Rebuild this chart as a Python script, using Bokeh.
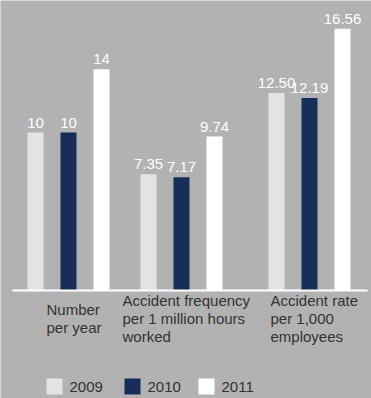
from bokeh.plotting import figure
from bokeh.models import Range1d, ColumnDataSource
from bokeh.core.properties import value
from bokeh.embed import file_html
from bokeh.resources import INLINE

# ---- data ----
categories = ["Number\nper year", "Accident frequency\nper 1 million hours\nworked", "Accident rate\nper 1,000\nemployees"]
years = ["2009", "2010", "2011"]
v2009 = [10, 7.35, 12.50]
v2010 = [10, 7.17, 12.19]
v2011 = [14, 9.74, 16.56]
labels2009 = ["10", "7.35", "12.50"]
labels2010 = ["10", "7.17", "12.19"]
labels2011 = ["14", "9.74", "16.56"]

# ---- layout ----
W, H = 371, 398
BASE_PX = 290          # baseline pixel from top
K = 15.8               # px per unit
colors = ["#e3e3e3", "#172e5a", "#ffffff"]
group_centers = [68, 181, 309]
offsets = [-33, 0, 33]
FONT = "Liberation Sans"

def py(p):
    return (BASE_PX - p) / K

p = figure(width=W, height=H, output_backend="svg", toolbar_location=None,
           x_range=Range1d(0, W), y_range=Range1d(py(H), py(0)),
           min_border=0, min_border_left=0, min_border_right=0,
           min_border_top=0, min_border_bottom=0)
p.axis.visible = False
p.grid.visible = False
p.outline_line_color = None
p.background_fill_color = "#b2b2b2"
p.border_fill_color = "#b2b2b2"

series = [v2009, v2010, v2011]
lab_series = [labels2009, labels2010, labels2011]
for i, (vals, labs) in enumerate(zip(series, lab_series)):
    xs = [c + offsets[i] for c in group_centers]
    src = ColumnDataSource(dict(x=xs, top=vals, lab=labs))
    p.vbar(x="x", top="top", bottom=0, width=16, source=src,
           fill_color=colors[i], line_color=None)
    p.text(x="x", y="top", text="lab", source=src, y_offset=-5,
           text_align="center", text_baseline="bottom",
           text_color="#ffffff", text_font_size="15px", text_font=value(FONT))

# baseline
p.segment(x0=[12], y0=[0], x1=[367], y1=[0], line_color="#ffffff", line_width=2)

# category labels
cat_x = [46, 122, 270]
p.text(x=cat_x, y=[py(318)] * 3, text=categories, text_align="left",
       text_baseline="alphabetic", text_color="#333333", text_font_size="15px",
       text_font=value(FONT), text_line_height=1.05)

# legend
leg_x = [46, 124, 198]
p.rect(x=[lx + 8 for lx in leg_x], y=[py(386)] * 3, width=16, height=16 / K,
       fill_color=colors, line_color=None)
p.text(x=[lx + 23 for lx in leg_x], y=[py(386)] * 3, text=years, text_align="left",
       text_baseline="middle", text_color="#333333", text_font_size="15px",
       text_font=value(FONT))

open("out.html", "w").write(file_html(p, INLINE))
